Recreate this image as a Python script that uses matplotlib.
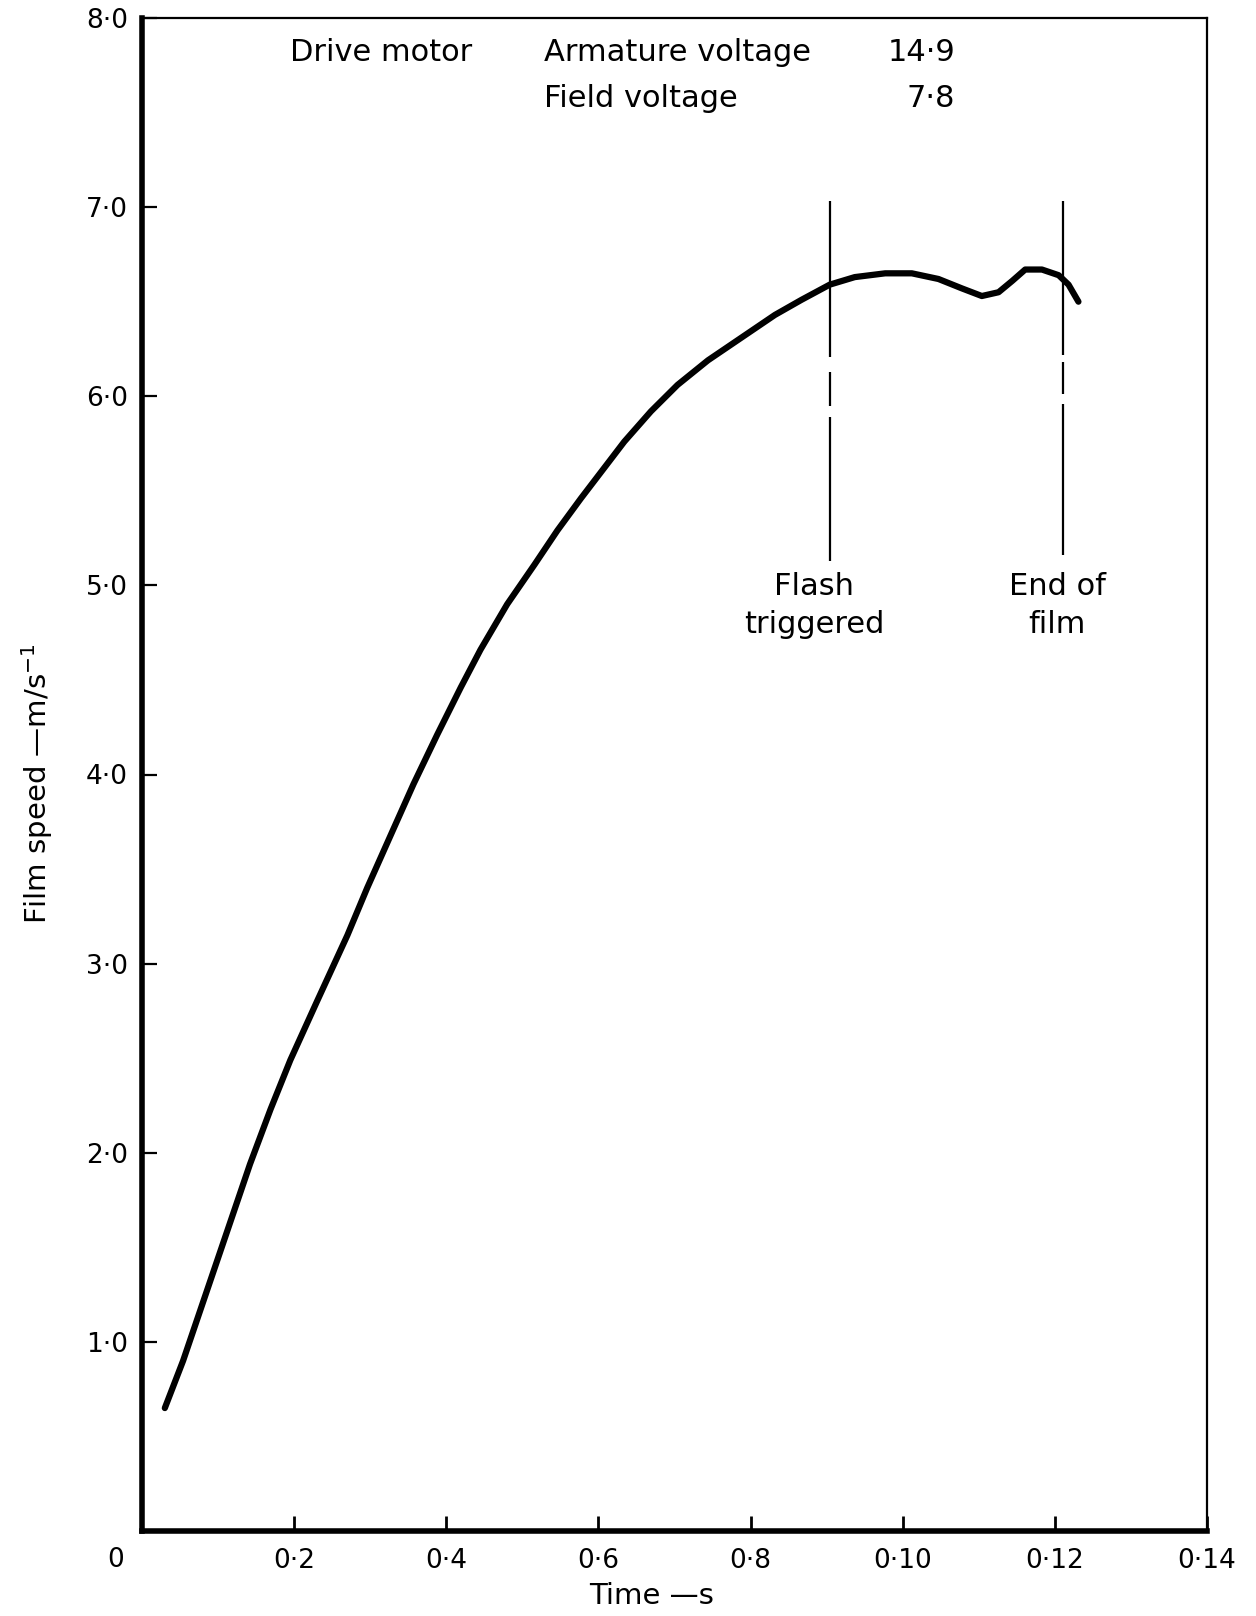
import matplotlib.pyplot as plt

# Film speed curve
tempo = [0.0030, 0.0054, 0.0076, 0.0098, 0.0120, 0.0142, 0.0169, 0.0195,
         0.0230, 0.0270, 0.0296, 0.0327, 0.0357, 0.0388, 0.0419, 0.0445,
         0.0480, 0.0516, 0.0546, 0.0577, 0.0634, 0.0669, 0.0704, 0.0744,
         0.0788, 0.0832, 0.0867, 0.0904, 0.0937, 0.0977, 0.1012, 0.1047,
         0.1078, 0.1104, 0.1126, 0.1144, 0.1161, 0.1183, 0.1205, 0.1218,
         0.1231]
velocidade = [0.65, 0.90, 1.16, 1.42, 1.68, 1.94, 2.23, 2.49,
              2.80, 3.15, 3.40, 3.68, 3.95, 4.21, 4.46, 4.66,
              4.90, 5.11, 5.29, 5.46, 5.76, 5.92, 6.06, 6.19,
              6.31, 6.43, 6.51, 6.59, 6.63, 6.65, 6.65, 6.62,
              6.57, 6.53, 6.55, 6.61, 6.67, 6.67, 6.64, 6.59,
              6.50]

# marker lines (time, list of (bottom, top) pieces)
eventos = [0.0904, 0.1211]
pedacos = [
    [(6.21, 7.03), (5.95, 6.13), (5.13, 5.89)],
    [(6.22, 7.03), (6.01, 6.18), (5.16, 5.96)],
]
rotulos_evento = [("Flash", "triggered"), ("End of", "film")]
pos_rotulo = [0.0884, 0.1203]

xticks = [0.02, 0.04, 0.06, 0.08, 0.10, 0.12, 0.14]
xticklabels = ["0·2", "0·4", "0·6", "0·8", "0·10", "0·12", "0·14"]
yticks = [1, 2, 3, 4, 5, 6, 7, 8]
yticklabels = ["1·0", "2·0", "3·0", "4·0", "5·0", "6·0", "7·0", "8·0"]

fig = plt.figure(figsize=(12.56, 16.16), dpi=100)
ax = fig.add_axes([142 / 1256, 1 - 1531 / 1616, 1065 / 1256, 1513 / 1616])

ax.plot(tempo, velocidade, color="black", linewidth=4.5, solid_capstyle="round",
        solid_joinstyle="round")

for t, segs in zip(eventos, pedacos):
    for lo, hi in segs:
        ax.vlines(t, lo, hi, color="black", linewidth=1.6)

fs = 22
for xr, (l1, l2) in zip(pos_rotulo, rotulos_evento):
    ax.text(xr, 4.95, l1, ha="center", va="baseline", fontsize=fs)
    ax.text(xr, 4.75, l2, ha="center", va="baseline", fontsize=fs)

# header
ax.text(0.0195, 7.77, "Drive motor", ha="left", va="baseline", fontsize=fs)
ax.text(0.0528, 7.77, "Armature voltage", ha="left", va="baseline", fontsize=fs)
ax.text(0.1069, 7.77, "14·9", ha="right", va="baseline", fontsize=fs)
ax.text(0.0528, 7.53, "Field voltage", ha="left", va="baseline", fontsize=fs)
ax.text(0.1069, 7.53, "7·8", ha="right", va="baseline", fontsize=fs)

ax.set_xlim(0, 0.14)
ax.set_ylim(0, 8)
ax.set_xticks(xticks)
ax.set_xticklabels(xticklabels, fontsize=19)
ax.set_yticks(yticks)
ax.set_yticklabels(yticklabels, fontsize=19)
ax.tick_params(axis="x", direction="in", length=11, width=2, pad=12)
ax.tick_params(axis="y", direction="in", length=11, width=1.6, pad=10)

ax.annotate("0", xy=(0, 0), xytext=(-19, -21), textcoords="offset points",
            ha="center", va="center", fontsize=19)

for side in ["left", "bottom"]:
    ax.spines[side].set_linewidth(4)
for side in ["top", "right"]:
    ax.spines[side].set_linewidth(1.6)

ax.set_xlabel("Time —s", fontsize=21)
ax.xaxis.set_label_coords(0.478, -0.0335)
ax.set_ylabel("Film speed —m/s$^{-1}$", fontsize=21)
ax.yaxis.set_label_coords(-0.082, 0.494)

fig.savefig("out.png", dpi=100)
